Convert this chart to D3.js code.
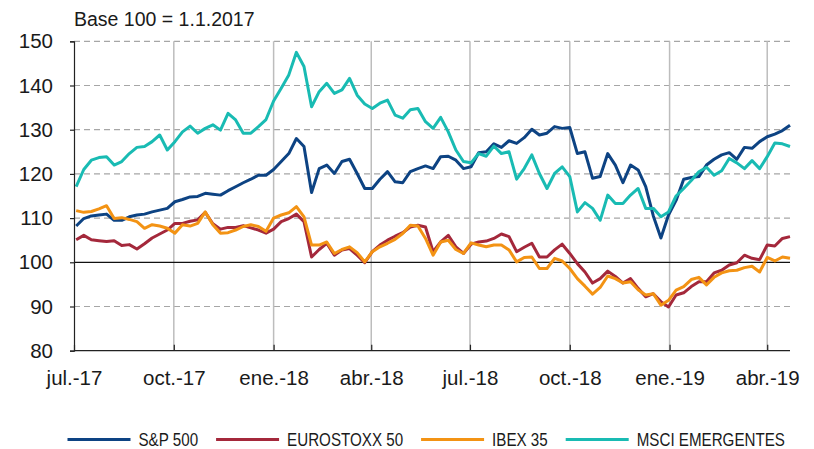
<!DOCTYPE html>
<html>
<head>
<meta charset="utf-8">
<script src="https://cdn.jsdelivr.net/npm/d3@7"></script>
<style>
  body { margin: 0; background: #fff; }
  svg { display: block; font-family: "Liberation Sans", Arial, sans-serif; }
</style>
</head>
<body>
<div id="chart"></div>
<script>
// weekly closes, base 100 = 1.1.2017
const weeks = [
  '2017-07-03','2017-07-10','2017-07-17','2017-07-24','2017-07-31','2017-08-07','2017-08-14','2017-08-21','2017-08-28','2017-09-04',
  '2017-09-11','2017-09-18','2017-09-25','2017-10-02','2017-10-09','2017-10-16','2017-10-23','2017-10-30','2017-11-06','2017-11-13',
  '2017-11-20','2017-11-27','2017-12-04','2017-12-11','2017-12-18','2017-12-25','2018-01-01','2018-01-08','2018-01-15','2018-01-22',
  '2018-01-29','2018-02-05','2018-02-12','2018-02-19','2018-02-26','2018-03-05','2018-03-12','2018-03-19','2018-03-26','2018-04-02',
  '2018-04-09','2018-04-16','2018-04-23','2018-04-30','2018-05-07','2018-05-14','2018-05-21','2018-05-28','2018-06-04','2018-06-11',
  '2018-06-18','2018-06-25','2018-07-02','2018-07-09','2018-07-16','2018-07-23','2018-07-30','2018-08-06','2018-08-13','2018-08-20',
  '2018-08-27','2018-09-03','2018-09-10','2018-09-17','2018-09-24','2018-10-01','2018-10-08','2018-10-15','2018-10-22','2018-10-29',
  '2018-11-05','2018-11-12','2018-11-19','2018-11-26','2018-12-03','2018-12-10','2018-12-17','2018-12-24','2018-12-31','2019-01-07',
  '2019-01-14','2019-01-21','2019-01-28','2019-02-04','2019-02-11','2019-02-18','2019-02-25','2019-03-04','2019-03-11','2019-03-18',
  '2019-03-25','2019-04-01','2019-04-08','2019-04-15','2019-04-22'
];

const sp500 = [
  108.2, 109.9, 110.5, 110.7, 110.9, 109.5, 109.5, 110.3, 110.7, 110.9,
  111.4, 111.8, 112.2, 113.7, 114.2, 114.8, 114.9, 115.6, 115.4, 115.2,
  116.2, 117.1, 118.0, 118.8, 119.7, 119.7, 121.0, 122.8, 124.6, 128.0,
  126.2, 115.8, 121.2, 122.0, 120.1, 122.8, 123.3, 120.1, 116.7, 116.7,
  118.8, 120.5, 118.2, 118.0, 120.5, 121.2, 121.8, 121.2, 123.9, 124.0,
  123.1, 121.2, 121.6, 124.8, 125.0, 126.8, 126.0, 127.5, 126.9, 128.2,
  130.1, 128.8, 129.2, 130.7, 130.3, 130.5, 124.6, 125.0, 119.0, 119.4,
  124.6, 122.0, 118.0, 122.0, 120.9, 117.1, 110.5, 105.5, 110.7, 114.0,
  118.8, 119.2, 119.4, 122.0, 123.3, 124.3, 124.8, 123.3, 126.0, 125.8,
  127.3, 128.4, 129.0, 129.8, 131.0
];

const eurostoxx = [
  105.1, 106.1, 105.1, 104.9, 104.7, 104.9, 103.8, 104.0, 103.0, 104.2,
  105.5, 106.4, 107.3, 108.8, 108.8, 109.3, 109.6, 111.3, 108.7, 107.5,
  107.9, 107.9, 108.3, 107.8, 107.3, 106.6, 107.5, 109.2, 109.9, 110.9,
  109.2, 101.2, 102.9, 104.3, 101.6, 102.8, 103.1, 101.6, 99.9, 102.4,
  103.9, 105.0, 105.9, 106.7, 108.0, 108.4, 108.0, 102.4, 104.6, 106.1,
  103.5, 102.0, 104.1, 104.6, 104.8, 105.4, 106.4, 105.8, 102.4, 103.4,
  104.3, 101.2, 101.2, 102.8, 104.1, 102.0, 99.7, 97.8, 95.3, 96.3,
  98.0, 96.8, 95.3, 96.3, 94.1, 92.2, 92.9, 91.1, 89.9, 92.6,
  93.1, 94.5, 95.6, 95.6, 97.6, 98.2, 99.4, 99.9, 101.6, 100.9,
  100.6, 103.9, 103.7, 105.4, 105.8
];

const ibex35 = [
  111.7, 111.3, 111.5, 112.1, 112.8, 109.9, 110.1, 109.7, 109.2, 107.7,
  108.5, 108.2, 107.7, 106.6, 108.5, 108.2, 108.8, 111.4, 108.5, 106.6,
  106.7, 107.3, 108.1, 108.5, 108.1, 107.0, 110.0, 110.7, 111.2, 112.6,
  110.3, 103.9, 103.9, 104.6, 102.0, 102.9, 103.5, 102.2, 100.1, 102.4,
  103.5, 104.3, 105.2, 106.5, 108.4, 108.2, 105.4, 101.6, 104.6, 105.0,
  102.9, 102.0, 104.4, 103.9, 103.5, 103.9, 103.9, 102.8, 100.1, 101.1,
  101.2, 98.6, 98.6, 100.9, 100.3, 98.6, 96.3, 94.6, 92.8, 94.3,
  96.9, 96.3, 95.3, 95.6, 93.8, 92.6, 92.9, 90.3, 91.4, 93.7,
  94.5, 96.1, 96.6, 94.9, 96.6, 97.6, 98.1, 98.2, 98.8, 99.1,
  97.8, 101.1, 100.3, 101.2, 100.9
];

const msciEm = [
  117.1, 121.0, 123.1, 123.7, 123.9, 122.0, 122.8, 124.6, 126.0, 126.2,
  127.3, 128.8, 125.4, 127.3, 129.5, 130.8, 129.2, 130.3, 131.1, 129.9,
  133.7, 132.2, 129.2, 129.2, 130.7, 132.3, 136.5, 139.4, 142.4, 147.5,
  144.3, 135.2, 138.6, 140.5, 138.2, 139.0, 141.6, 137.8, 135.8, 134.8,
  136.0, 136.7, 133.3, 132.6, 134.5, 134.8, 131.8, 130.3, 132.8, 129.5,
  125.4, 122.8, 122.5, 124.6, 124.0, 126.3, 124.6, 125.0, 118.8, 121.2,
  124.3, 120.1, 116.7, 120.1, 121.6, 119.4, 111.4, 113.5, 112.2, 109.5,
  115.2, 113.3, 113.3, 115.2, 116.7, 112.2, 112.2, 110.3, 111.4, 115.0,
  116.7, 118.5, 120.5, 121.5, 119.7, 120.7, 123.5, 122.5, 121.2, 123.0,
  121.2, 123.9, 127.0, 126.8, 126.2
];

const seriesNames = ['S&P 500', 'EUROSTOXX 50', 'IBEX 35', 'MSCI EMERGENTES'];
const seriesColors = ['#0d4383', '#a4283b', '#f39314', '#19bbb3'];
const yTicks = [80, 90, 100, 110, 120, 130, 140, 150];
const xTickDates = ['2017-07-01','2017-10-01','2018-01-01','2018-04-01','2018-07-01','2018-10-01','2019-01-01','2019-04-01'];
const xTickLabels = ['jul.-17','oct.-17','ene.-18','abr.-18','jul.-18','oct.-18','ene.-19','abr.-19'];
const subtitle = 'Base 100 = 1.1.2017';

const width = 814;
const height = 449;
const parse = d3.utcParse('%Y-%m-%d');

const svg = d3.select('#chart')
  .append('svg')
  .attr('width', width)
  .attr('height', height);

const x = d3.scaleUtc()
  .domain([parse('2017-07-01'), parse('2019-04-22')])
  .range([74, 790]);

const y = d3.scaleLinear()
  .domain([80, 150])
  .range([350.7, 41.3]);

// horizontal dashed grid
svg.append('g')
  .selectAll('line')
  .data(yTicks.filter(d => d !== 80 && d !== 100))
  .join('line')
  .attr('x1', x.range()[0])
  .attr('x2', x.range()[1])
  .attr('y1', d => y(d))
  .attr('y2', d => y(d))
  .attr('stroke', '#a6a6a6')
  .attr('stroke-width', 1.2)
  .attr('stroke-dasharray', '6,4');

// vertical grid
svg.append('g')
  .selectAll('line')
  .data(xTickDates.slice(1))
  .join('line')
  .attr('x1', d => x(parse(d)))
  .attr('x2', d => x(parse(d)))
  .attr('y1', y(150))
  .attr('y2', y(80))
  .attr('stroke', '#bdbdbd')
  .attr('stroke-width', 1.5);

// base 100 line
svg.append('line')
  .attr('x1', x.range()[0])
  .attr('x2', x.range()[1])
  .attr('y1', y(100))
  .attr('y2', y(100))
  .attr('stroke', '#111')
  .attr('stroke-width', 1.2);

// series
const allSeries = [sp500, eurostoxx, ibex35, msciEm];
const line = d3.line()
  .x((d, i) => x(parse(weeks[i])))
  .y(d => y(d));

svg.append('g')
  .selectAll('path')
  .data(allSeries)
  .join('path')
  .attr('d', d => line(d))
  .attr('fill', 'none')
  .attr('stroke', (d, i) => seriesColors[i])
  .attr('stroke-width', 3)
  .attr('stroke-linejoin', 'round');

// y axis
const yAxis = svg.append('g')
  .attr('transform', `translate(${x.range()[0]},0)`)
  .call(d3.axisLeft(y).tickValues(yTicks).tickSize(4).tickPadding(17));
yAxis.selectAll('text')
  .style('font-size', '20.5px')
  .style('fill', '#1a1a1a');

// x axis
const xAxis = svg.append('g')
  .attr('transform', `translate(0,${y(80)})`)
  .call(d3.axisBottom(x)
    .tickValues(xTickDates.map(parse))
    .tickFormat((d, i) => xTickLabels[i])
    .tickSize(-6)
    .tickPadding(20))
  .call(g => g.select('.domain').attr('d', `M${x.range()[0]},0H${x.range()[1]}`));
xAxis.selectAll('text')
  .style('font-size', '20.5px')
  .style('fill', '#1a1a1a');

svg.selectAll('.domain, .tick line')
  .attr('stroke', '#222')
  .attr('stroke-width', 1.2);

// subtitle
svg.append('text')
  .attr('x', 74)
  .attr('y', 26)
  .style('font-size', '19.5px')
  .style('fill', '#1a1a1a')
  .text(subtitle);

// legend (condensed text)
const legend = svg.append('g')
  .attr('transform', 'translate(67.5,439.5)');

const squeeze = 0.82;
let lx = 0;
seriesNames.forEach((name, i) => {
  legend.append('line')
    .attr('x1', lx)
    .attr('x2', lx + 63)
    .attr('y1', 0)
    .attr('y2', 0)
    .attr('stroke', seriesColors[i])
    .attr('stroke-width', 3);
  const t = legend.append('text')
    .attr('transform', `translate(${lx + 71},6.5) scale(${squeeze},1)`)
    .style('font-size', '18.5px')
    .style('fill', '#1a1a1a')
    .text(name);
  lx += 71 + t.node().getComputedTextLength() * squeeze + 18;
});
</script>
</body>
</html>
